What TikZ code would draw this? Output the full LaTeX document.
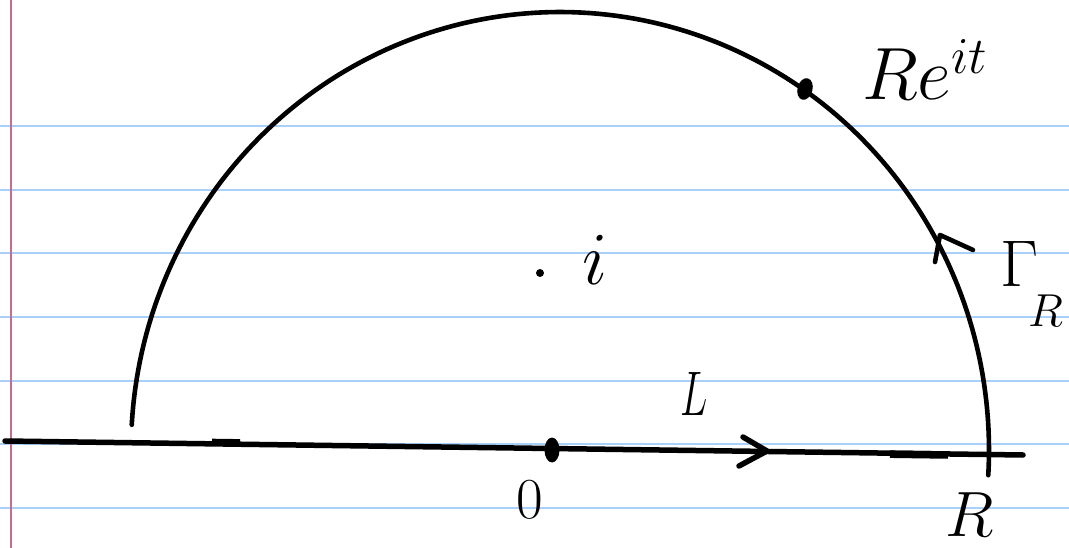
\RequirePackage{fix-cm}
\documentclass[tikz,border=0pt]{standalone}
\usetikzlibrary{shapes.geometric}
\definecolor{ruleblue}{RGB}{168,208,248}
\definecolor{marginpink}{RGB}{196,110,140}
\begin{document}
\begin{tikzpicture}[x=1pt,y=-1pt,
  ink/.style={line width=4.6pt, line cap=round, line join=round},
  axisink/.style={line width=5.5pt, line cap=round},
  hand/.style={inner sep=0pt, font=\fontsize{72}{72}\selectfont},
  blob/.style={fill=black, inner sep=0pt},
]
\useasboundingbox (0,0) rectangle (1069,548);
\fill[white] (0,0) rectangle (1069,548);
% ruled paper
\foreach \y in {126.5,190,253.5,317,380.5,444,507.5}
  \draw[ruleblue, line width=2pt] (0,\y) -- (1069,\y);
\draw[marginpink, line width=2.2pt] (11,0) -- (11,548);

% real axis
\coordinate (axL) at (5,441);
\coordinate (axR) at (1023,455);
\draw[axisink] (axL) -- (axR);
\draw[line width=7pt] (212,442.2) -- (240,442.6);
\draw[line width=7.5pt] (890,454.2) -- (948,455);

% semicircle Gamma_R
\coordinate (arcL) at (132,425);
\coordinate (arcR) at (988,475);
\draw[ink] plot[domain=-3.3:176.7, samples=150] ({560+429*cos(\x)},{450-438*sin(\x)});

% arrow on L
\coordinate (ltip) at (767,451);
\coordinate (la1) at (743,437);
\coordinate (la2) at (739,466);
\draw[ink, line width=5.5pt] (la1) -- (ltip) -- (la2);

% arrow on Gamma_R
\coordinate (gtip) at (940,235);
\coordinate (ga1) at (935,262);
\coordinate (ga2) at (973,250);
\draw[ink] (ga1) -- (gtip) -- (ga2);

% points
\node[blob, ellipse, minimum width=15pt, minimum height=25pt] (origin) at (552,450) {};
\node[blob, ellipse, rotate=-15, minimum width=15pt, minimum height=22pt] (pt) at (805,89) {};
\node[blob, circle, minimum size=8pt] (ipt) at (540,273) {};

% labels
\node[hand, font=\fontsize{74}{74}\selectfont, anchor=base west] (reit) at (862,100) {$Re^{it}$};
\node[hand, font=\fontsize{66}{66}\selectfont, anchor=base west] (gammaR) at (1000,287)
  {$\Gamma_{\kern-10pt\raisebox{-30pt}{$\scriptstyle R$}}$};
\node[hand, font=\fontsize{75}{75}\selectfont, anchor=base] (ilab) at (595,285) {$i$};
\node[hand, font=\fontsize{63}{63}\selectfont, anchor=base] (llab) at (694,415) {\scalebox{0.65}[1]{$L$}};
\node[hand, font=\fontsize{58}{58}\selectfont, anchor=base] (zlab) at (530,518) {$0$};
\node[hand, font=\fontsize{64}{64}\selectfont, anchor=base] (rlab) at (970,536) {$R$};
\end{tikzpicture}
\end{document}
